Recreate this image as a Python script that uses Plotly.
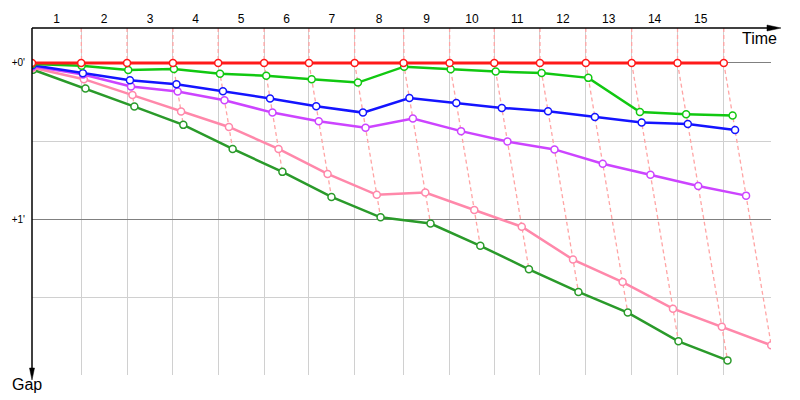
import numpy as np
import plotly.graph_objects as go

# ---------------- data ----------------
lap_numbers = list(range(1, 16))
# leader lap times (s)
leader_lap_times = [112.0, 104.6, 104.5, 103.2, 104.6, 102.2, 104.1, 111.4,
                    105.0, 101.8, 104.1, 104.5, 104.5, 104.5, 105.4]
# gap to leader (s) at the end of each lap (index 0 = start)
gap_red = [0.0] * 16
gap_green = [0.4, 1.1, 2.7, 2.3, 4.1, 4.9, 6.2, 7.5, 1.4, 2.4, 3.3, 3.8, 5.7, 18.8, 19.6, 20.1]
gap_blue = [0.9, 3.9, 6.6, 8.1, 10.8, 13.6, 16.6, 19.0, 13.4, 15.3, 17.2, 18.5, 20.7, 22.8, 23.4, 25.7]
gap_purple = [1.3, 4.4, 9.0, 10.9, 14.3, 19.0, 22.3, 24.8, 21.3, 26.1, 30.1, 33.1, 38.6, 42.8, 47.1, 50.8]
gap_pink = [1.8, 6.2, 12.3, 18.6, 24.5, 32.9, 42.5, 50.5, 49.6, 56.3, 62.7, 75.3, 83.9, 94.1, 101.0, 108.1]
gap_dkgreen = [2.6, 9.8, 16.7, 23.7, 32.9, 41.7, 51.3, 59.1, 61.5, 70.0, 79.0, 87.7, 95.6, 106.6, 113.9]

gap_tickvals = [0, 60]
gap_ticktext = ["+0'", "+1'"]
gap_minor_ticks = [30, 90]

drivers = [
    ("Driver 6", "#2a9a2a", gap_dkgreen),
    ("Driver 5", "#ff88aa", gap_pink),
    ("Driver 4", "#cc44ff", gap_purple),
    ("Driver 3", "#1414ff", gap_blue),
    ("Driver 2", "#11c811", gap_green),
    ("Driver 1", "#ff1a1a", gap_red),
]

Y_TOP, Y_BOTTOM = -13.4, 119.5
X_MAX = 1684

cum = np.concatenate([[0.0], np.cumsum(leader_lap_times)])
mids = (cum[:-1] + cum[1:]) / 2

fig = go.Figure()

# lap lines (dashed)
lx, ly = [], []
for k in range(1, len(cum)):
    pts = [(cum[k] + g[k], g[k]) for _, _, g in drivers if len(g) > k]
    pts.sort(key=lambda p: p[1])
    lx += [cum[k]] + [p[0] for p in pts] + [None]
    ly += [Y_TOP] + [p[1] for p in pts] + [None]
fig.add_trace(go.Scatter(x=lx, y=ly, mode="lines", hoverinfo="skip",
                         line=dict(color="#ffa4a4", width=1.3, dash="4px,3px"),
                         showlegend=False))

for name, color, g in drivers:
    g = np.array(g)
    x = cum[:len(g)] + g
    fig.add_trace(go.Scatter(
        x=x, y=g, mode="lines+markers", name=name, showlegend=False,
        line=dict(color=color, width=3 if name == "Driver 1" else 2.5),
        marker=dict(symbol="circle", size=7, color="white",
                    line=dict(color=color, width=1.5)),
    ))

FONT = "Liberation Sans, Arial, sans-serif"
fig.update_layout(
    width=800, height=400,
    margin=dict(l=30, r=29, t=25, b=25),
    plot_bgcolor="white", paper_bgcolor="white",
    font=dict(family=FONT, color="black"),
    xaxis=dict(
        range=[0, X_MAX], side="top", tickmode="array",
        tickvals=mids, ticktext=[str(n) for n in lap_numbers],
        showgrid=False, zeroline=False, showline=False, ticks="",
        tickfont=dict(size=12, family=FONT), ticklabelstandoff=2,
        minor=dict(tickmode="array", tickvals=list(cum[1:]), showgrid=True,
                   gridcolor="#d0d0d0", gridwidth=1, ticks=""),
    ),
    yaxis=dict(
        range=[Y_BOTTOM, Y_TOP], tickmode="array",
        tickvals=gap_tickvals, ticktext=gap_ticktext,
        showgrid=True, gridcolor="#808080", gridwidth=1,
        zeroline=False, showline=False, ticks="",
        tickfont=dict(size=10, family=FONT), ticklabelstandoff=6,
        minor=dict(tickmode="array", tickvals=gap_minor_ticks, showgrid=True,
                   gridcolor="#d0d0d0", gridwidth=1, ticks=""),
    ),
    shapes=[
        dict(type="line", xref="paper", yref="paper", xsizemode="pixel", ysizemode="pixel",
             xanchor=0, yanchor=1, x0=0, x1=738, y0=0, y1=0,
             line=dict(color="black", width=1.3)),
        dict(type="path", xref="paper", yref="paper", xsizemode="pixel", ysizemode="pixel",
             xanchor=0, yanchor=1, path="M735,3 L749,0 L735,-3 Z",
             fillcolor="black", line=dict(color="black", width=0.5)),
        dict(type="line", xref="paper", yref="paper", xsizemode="pixel", ysizemode="pixel",
             xanchor=0, yanchor=1, x0=0, x1=0, y0=0, y1=-342,
             line=dict(color="black", width=1.5)),
        dict(type="path", xref="paper", yref="paper", xsizemode="pixel", ysizemode="pixel",
             xanchor=0, yanchor=1, path="M-2.5,-340 L0,-352 L2.5,-340 Z",
             fillcolor="black", line=dict(color="black", width=0.5)),
    ],
    annotations=[
        dict(text="Time", xref="paper", yref="paper", x=0.985, y=0.971,
             xanchor="center", yanchor="middle",
             showarrow=False, font=dict(size=16, family=FONT)),
        dict(text="Gap", xref="paper", yref="paper", x=-0.0074, y=-0.0286,
             xanchor="center", yanchor="middle",
             showarrow=False, font=dict(size=16, family=FONT)),
    ],
)

fig.write_html("out.html")
